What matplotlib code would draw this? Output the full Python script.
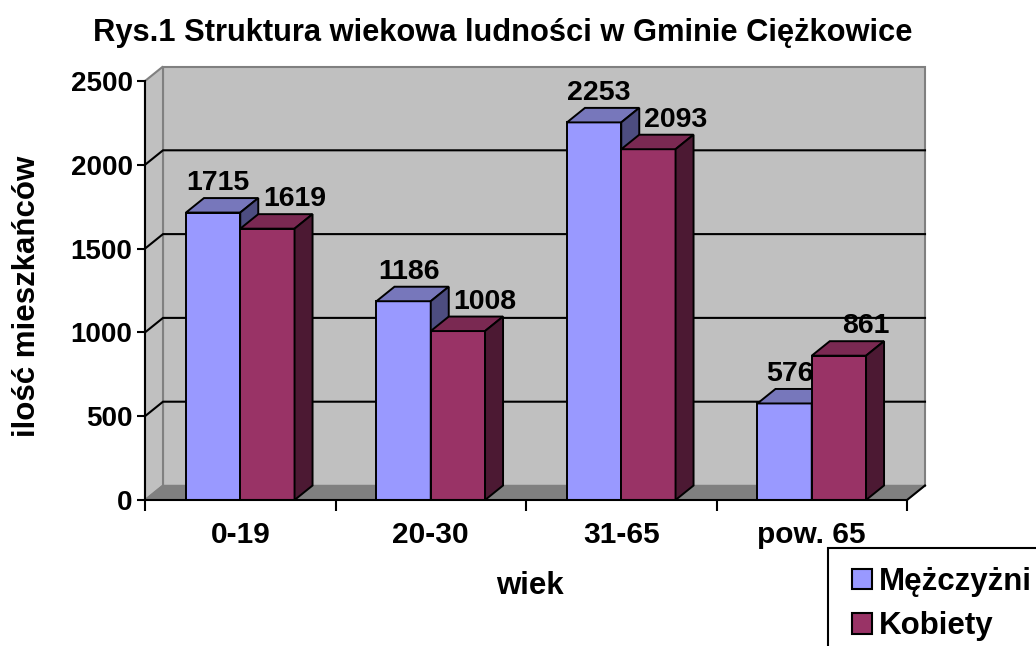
import matplotlib
matplotlib.use("Agg")
import matplotlib.pyplot as plt
from matplotlib.patches import Polygon, Patch, Rectangle

# ---- data ----
categories = ["0-19", "20-30", "31-65", "pow. 65"]
series_names = ["Mężczyżni", "Kobiety"]
men = [1715, 1186, 2253, 576]
women = [1619, 1008, 2093, 861]
yticks = [0, 500, 1000, 1500, 2000, 2500]
title = "Rys.1 Struktura wiekowa ludności w Gminie Ciężkowice"
xlabel = "wiek"
ylabel = "ilość mieszkańców"

# ---- style ----
plt.rcParams['font.family'] = ['Liberation Sans', 'DejaVu Sans']
plt.rcParams['font.weight'] = 'bold'

W, H = 1036, 646
fig = plt.figure(figsize=(W / 100, H / 100), dpi=100)
fig.patch.set_facecolor('white')

# front plane of the plot in pixels
x0, x1 = 145, 907
y0, y1 = 500, 81
ax = fig.add_axes([x0 / W, 1 - y0 / H, (x1 - x0) / W, (y0 - y1) / H])
ax.set_xlim(-0.5, 3.5)
ax.set_ylim(0, 2500)
ax.patch.set_visible(False)

px_x = (x1 - x0) / 4.0
px_y = (y0 - y1) / 2500.0
DX = 18 / px_x
DY = 14.5 / px_y

wall = '#C0C0C0'
floor = '#808080'
edge_gray = '#808080'

# back wall
ax.add_patch(Polygon([(-0.5 + DX, DY), (3.5 + DX, DY), (3.5 + DX, 2500 + DY), (-0.5 + DX, 2500 + DY)],
                     closed=True, facecolor=wall, edgecolor=edge_gray, lw=1.5, clip_on=False, zorder=1))
# left wall
ax.add_patch(Polygon([(-0.5, 0), (-0.5 + DX, DY), (-0.5 + DX, 2500 + DY), (-0.5, 2500)],
                     closed=True, facecolor=wall, edgecolor=edge_gray, lw=1.5, clip_on=False, zorder=1))
# floor
ax.add_patch(Polygon([(-0.5, 0), (3.5, 0), (3.5 + DX, DY), (-0.5 + DX, DY)],
                     closed=True, facecolor=floor, edgecolor=edge_gray, lw=1.0, clip_on=False, zorder=1))
ax.plot([3.5, 3.5 + DX], [0, DY], color='black', lw=1.5, clip_on=False, zorder=2)

# gridlines
for v in yticks[1:-1]:
    ax.plot([-0.5, -0.5 + DX, 3.5 + DX], [v, v + DY, v + DY], color='black', lw=1.5,
            clip_on=False, zorder=2, solid_joinstyle='miter')

bw = 0.285
colors = [('#9999FF', '#7777BB', '#4D4D80'), ('#993366', '#7A2952', '#4C1933')]
label_dx = [-4, 18]
z = 3
for i in range(len(categories)):
    for s, vals in enumerate([men, women]):
        v = vals[i]
        left = i - bw + s * bw
        right = left + bw
        front_c, top_c, side_c = colors[s]
        ax.add_patch(Polygon([(left, 0), (right, 0), (right, v), (left, v)], closed=True,
                             facecolor=front_c, edgecolor='black', lw=1.4, clip_on=False, zorder=z))
        ax.add_patch(Polygon([(left, v), (right, v), (right + DX, v + DY), (left + DX, v + DY)], closed=True,
                             facecolor=top_c, edgecolor='black', lw=1.4, clip_on=False, zorder=z))
        ax.add_patch(Polygon([(right, 0), (right + DX, DY), (right + DX, v + DY), (right, v)], closed=True,
                             facecolor=side_c, edgecolor='black', lw=1.4, clip_on=False, zorder=z))
        z += 1
        ax.annotate(str(v), xy=((left + right) / 2 + DX / 2, v + DY), xytext=(label_dx[s], 8),
                    textcoords='offset pixels', ha='center', va='baseline',
                    fontsize=20.5, fontweight='bold', zorder=50, annotation_clip=False)

# axes/spines
for sp in ['top', 'right']:
    ax.spines[sp].set_visible(False)
ax.spines['left'].set_linewidth(1.5)
ax.spines['bottom'].set_linewidth(1.5)
ax.spines['left'].set_zorder(40)
ax.spines['bottom'].set_zorder(40)
ax.set_yticks(yticks)
ax.set_yticklabels([str(t) for t in yticks], fontsize=20, fontweight='bold')
ax.tick_params(axis='y', direction='out', length=6, width=1.5, pad=3)
ax.set_xticks([-0.5, 0.5, 1.5, 2.5, 3.5])
ax.set_xticklabels([])
ax.tick_params(axis='x', which='major', direction='out', length=8, width=1.5)
ax.set_xticks(range(len(categories)), minor=True)
ax.set_xticklabels(categories, minor=True, fontsize=21.5, fontweight='bold')
ax.tick_params(axis='x', which='minor', length=0, pad=15)

fig.text(503 / W, 1 - 33 / H, title, ha='center', va='center', fontsize=22.2, fontweight='bold')
fig.text(530 / W, 1 - 586 / H, xlabel, ha='center', va='center', fontsize=22.5, fontweight='bold')
fig.text(27 / W, 1 - 296 / H, ylabel, ha='center', va='center', rotation=90, fontsize=22.5, fontweight='bold')

# legend frame (runs off the figure edge like in the reference)
fig.add_artist(Rectangle((828 / W, -0.05), 0.5, (1 - 548 / H) + 0.05, transform=fig.transFigure,
                         facecolor='white', edgecolor='black', lw=1.5, zorder=5))
handles = [Patch(facecolor=colors[0][0], edgecolor='black', lw=1.5),
           Patch(facecolor=colors[1][0], edgecolor='black', lw=1.5)]
leg = fig.legend(handles, series_names, loc='upper left', bbox_to_anchor=(852 / W, 1 - 567 / H),
                 bbox_transform=fig.transFigure, borderaxespad=0, frameon=False,
                 prop={'size': 22.5, 'weight': 'bold'}, handlelength=0.64, handleheight=0.64,
                 handletextpad=0.22, labelspacing=0.46, borderpad=0)
leg.set_zorder(6)

fig.savefig('out.png', dpi=100)
